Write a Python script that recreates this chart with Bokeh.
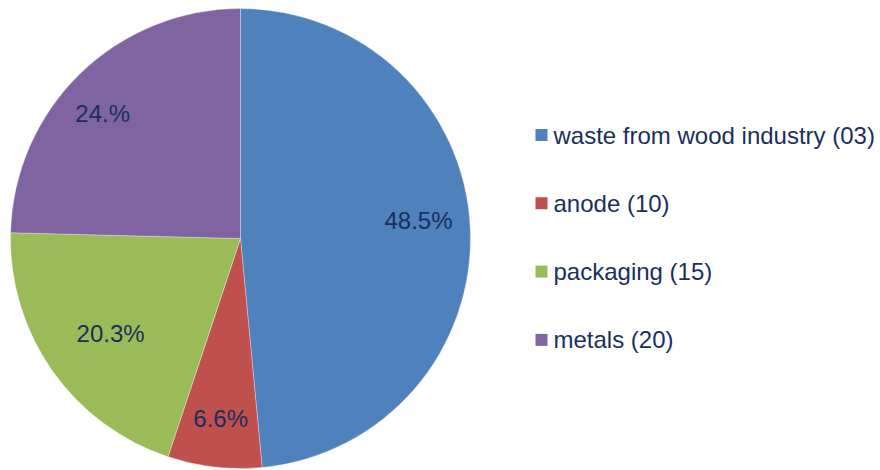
import math
from bokeh.plotting import figure
from bokeh.models import Range1d, ColumnDataSource
from bokeh.core.properties import value
from bokeh.embed import file_html
from bokeh.resources import INLINE

# ---- data ----
categories = ["waste from wood industry (03)", "anode (10)", "packaging (15)", "metals (20)"]
shares = [48.5, 6.6, 20.3, 24.6]
pct_labels = ["48.5%", "6.6%", "20.3%", "24.%"]
colors = ["#4F81BD", "#C0504D", "#9BBB59", "#8064A2"]

# ---- layout ----
W, H = 880, 470
cx, cy, R = 240, 232, 230
label_dist = [0.778, 0.788, 0.700, 0.809]
label_turn = [-3.1, -0.2, -1.1, -3.5]   # degrees, clockwise-negative tweak
leg_x, leg_y0, leg_step = 541, 335.5, 68.3
text_color = "#1A2F5E"
font = "Liberation Sans"

p = figure(width=W, height=H, output_backend="svg", toolbar_location=None,
           x_range=Range1d(0, W), y_range=Range1d(0, H), min_border=0)
p.axis.visible = False
p.grid.visible = False
p.outline_line_color = None
p.background_fill_color = "white"
p.border_fill_color = "white"

total = sum(shares)
starts, ends, lx, ly = [], [], [], []
cum = 0.0
for i, s in enumerate(shares):
    a0 = math.pi / 2 - 2 * math.pi * cum / total
    cum += s
    a1 = math.pi / 2 - 2 * math.pi * cum / total
    starts.append(a0)
    ends.append(a1)
    mid = (a0 + a1) / 2 - math.radians(label_turn[i])
    lx.append(cx + label_dist[i] * R * math.cos(mid))
    ly.append(cy + label_dist[i] * R * math.sin(mid))

src = ColumnDataSource(dict(start=starts, end=ends, color=colors, lx=lx, ly=ly, lab=pct_labels))
p.wedge(x=cx, y=cy, radius=R, start_angle="start", end_angle="end", direction="clock",
        fill_color="color", line_color="white", line_width=0.6, line_alpha=0.5, source=src)
p.text(x="lx", y="ly", text="lab", source=src, text_align="center", text_baseline="middle",
       text_font=value(font), text_font_size="24px", text_color=text_color)

# legend
ly_leg = [leg_y0 - i * leg_step for i in range(len(categories))]
lsrc = ColumnDataSource(dict(x=[leg_x] * len(categories), y=ly_leg, color=colors,
                             tx=[leg_x + 12] * len(categories), lab=categories))
p.scatter(x="x", y="y", marker="square", size=12, fill_color="color", line_color=None, source=lsrc)
p.text(x="tx", y="y", text="lab", source=lsrc, text_align="left", text_baseline="middle",
       text_font=value(font), text_font_size="24px", text_color=text_color)

open("out.html", "w").write(file_html(p, INLINE))
